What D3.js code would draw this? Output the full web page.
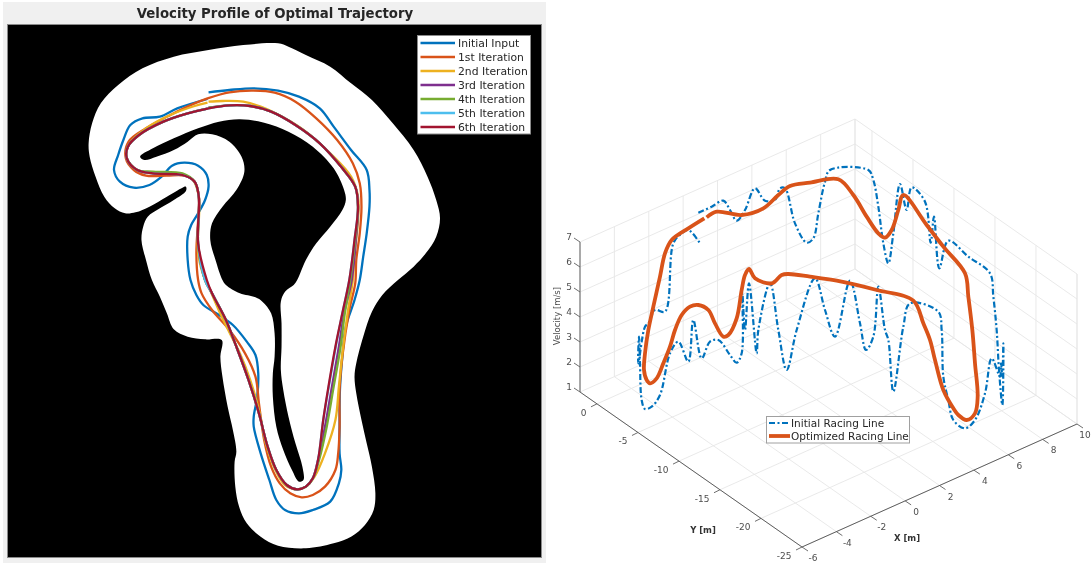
<!DOCTYPE html>
<html><head><meta charset="utf-8">
<script src="https://cdn.jsdelivr.net/npm/d3@7"></script>
<style>html,body{margin:0;padding:0;background:#fff}svg{display:block}text{font-family:"DejaVu Sans",sans-serif}</style>
</head><body><svg id="c" width="1091" height="565"></svg>
<script>
// ---------- Left panel: track map (map grid units) ----------
const chartTitle = "Velocity Profile of Optimal Trajectory";
const iterationNames = ["Initial Input","1st Iteration","2nd Iteration","3rd Iteration","4th Iteration","5th Iteration","6th Iteration"];
const iterationColors = ["#0072BD","#D95319","#EDB120","#7E2F8E","#77AC30","#4DBEEE","#A2142F"];
const trackOuter = [[800,130],[830,140],[880,165],[950,200],[1010,250],[1070,300],[1130,370],[1190,450],[1230,530],[1255,600],[1266,655],[1255,710],[1225,760],[1190,800],[1145,840],[1100,885],[1070,935],[1045,1010],[1025,1090],[1020,1130],[1025,1180],[1040,1260],[1055,1330],[1070,1400],[1080,1480],[1075,1530],[1050,1575],[1010,1610],[960,1630],[880,1645],[800,1637],[750,1610],[710,1570],[688,1520],[677,1460],[675,1385],[680,1355],[670,1290],[655,1220],[640,1130],[634,1070],[638,1020],[590,1018],[540,1010],[500,988],[480,940],[460,890],[437,840],[420,780],[407,720],[412,680],[425,650],[460,625],[500,600],[535,573],[535,560],[525,563],[480,590],[430,620],[390,637],[360,640],[330,625],[300,590],[275,530],[258,470],[255,430],[265,370],[290,310],[340,255],[410,205],[500,170],[600,150],[700,135]];
const trackHole = [[403,470],[440,445],[500,415],[570,385],[630,365],[690,358],[760,368],[830,395],[900,440],[960,505],[990,570],[995,600],[985,630],[950,680],[910,730],[880,780],[855,840],[845,855],[820,875],[808,905],[810,970],[810,1040],[808,1110],[815,1170],[830,1250],[850,1330],[870,1400],[873,1440],[860,1445],[840,1410],[815,1350],[795,1280],[785,1190],[785,1120],[790,1070],[790,1000],[780,940],[755,905],[735,892],[690,880],[650,855],[640,840],[620,780],[605,720],[610,670],[640,620],[680,570],[703,515],[695,470],[660,425],[610,403],[570,403],[540,425],[500,450],[450,470],[415,480]];
const iterInitial = [[600,277],[660,270],[730,265],[800,272],[860,290],[920,325],[960,380],[1010,450],[1055,510],[1063,570],[1063,620],[1055,700],[1045,770],[1035,840],[1020,900],[995,980],[985,1070],[978,1170],[977,1280],[977,1360],[982,1410],[975,1450],[950,1505],[900,1530],[860,1540],[820,1530],[795,1500],[775,1440],[750,1360],[730,1280],[730,1250],[740,1190],[743,1120],[735,1065],[710,1025],[670,975],[630,945],[585,915],[565,885],[548,840],[540,780],[540,710],[550,675],[570,640],[590,600],[600,560],[595,525],[570,497],[530,488],[495,497],[465,530],[430,555],[385,563],[345,545],[328,510],[340,465],[355,420],[375,375],[410,355],[460,350],[510,325],[597,297]];
const iterFirst = [[597,295],[660,277],[730,272],[790,278],[850,305],[910,355],[970,420],[1015,490],[1035,550],[1040,620],[1035,700],[1025,780],[1022,850],[1005,930],[985,1070],[977,1170],[977,1280],[973,1360],[965,1410],[935,1460],[900,1485],[868,1492],[835,1480],[805,1450],[780,1400],[760,1320],[745,1210],[735,1130],[705,1060],[660,990],[610,930],[580,880],[570,840],[565,760],[570,660],[572,590],[560,545],[530,527],[480,527],[420,527],[385,510],[362,475],[370,425],[420,385],[490,345],[560,310],[597,295]];
const iterSecond = [[600,305],[640,303],[700,305],[750,320],[820,355],[880,395],[950,460],[1010,530],[1030,590],[1030,660],[1020,760],[1015,840],[1000,940],[985,1060],[975,1160],[965,1260],[935,1360],[905,1430],[880,1460],[855,1468],[820,1455],[790,1405],[765,1330],[745,1230],[720,1140],[690,1060],[640,955],[600,860],[590,840],[570,760],[572,590],[555,540],[520,523],[440,520],[395,510],[365,475],[370,435],[420,385],[490,345],[560,318],[597,308]];
const iterThird = [[600,323],[660,316],[720,318],[780,335],[850,375],[920,430],[985,505],[1022,560],[1030,620],[1024,720],[1012,840],[990,940],[975,1040],[955,1160],[935,1280],[915,1380],[900,1435],[880,1460],[855,1468],[825,1455],[795,1410],[770,1340],[745,1240],[715,1140],[680,1040],[650,960],[610,880],[590,840],[570,730],[572,590],[560,545],[525,525],[440,520],[395,510],[365,475],[368,440],[400,405],[470,365],[540,340],[597,326]];
const iterFourth = [[600,323],[660,316],[720,318],[780,335],[850,375],[920,430],[985,505],[1022,560],[1030,620],[1022,720],[1008,840],[992,940],[980,1040],[960,1160],[940,1280],[918,1380],[900,1435],[880,1460],[855,1468],[825,1455],[795,1410],[770,1340],[745,1240],[715,1140],[680,1040],[650,960],[610,880],[590,840],[570,730],[572,590],[560,545],[525,520],[440,515],[395,510],[365,475],[368,440],[400,405],[470,365],[540,340],[597,326]];
const iterFifth = [[600,325],[660,316],[720,318],[780,335],[850,375],[920,430],[985,505],[1022,560],[1030,620],[1020,720],[1005,840],[985,940],[966,1040],[946,1160],[930,1260],[915,1380],[900,1435],[880,1460],[855,1468],[825,1455],[795,1410],[770,1340],[745,1240],[715,1140],[680,1040],[650,960],[610,880],[590,840],[570,730],[572,590],[560,545],[525,525],[440,520],[395,510],[365,475],[368,440],[400,405],[470,365],[540,340],[600,325]];
const iterSixth = [[600,325],[660,316],[720,318],[780,335],[850,375],[920,430],[985,505],[1022,560],[1030,620],[1020,720],[1005,840],[985,940],[965,1040],[945,1160],[930,1260],[915,1380],[900,1435],[880,1460],[855,1468],[825,1455],[795,1410],[770,1340],[745,1240],[715,1140],[680,1040],[650,960],[610,880],[595,840],[570,730],[572,590],[560,545],[525,525],[440,520],[395,510],[365,475],[368,440],[400,405],[470,365],[540,340],[600,325]];
const iterations = [iterInitial,iterFirst,iterSecond,iterThird,iterFourth,iterFifth,iterSixth];

// ---------- Right panel: 3D axes and curves (projected plane units) ----------
const xTicks = [-6,-4,-2,0,2,4,6,8,10];
const yTicks = [0,-5,-10,-15,-20,-25];
const zTicks = [1,2,3,4,5,6,7];
const yAxisMax = 2.07;
const racingNames = ["Initial Racing Line","Optimized Racing Line"];
const racingColors = ["#0072BD","#D95319"];
const initialLine = [[460,308],[500,290],[535,272],[555,300],[575,332],[600,300],[630,235],[660,272],[690,270],[705,235],[720,235],[750,340],[785,398],[805,385],[820,310],[840,215],[855,180],[970,180],[985,210],[1000,290],[1015,400],[1030,460],[1045,370],[1065,222],[1085,300],[1100,232],[1140,275],[1157,398],[1167,320],[1183,475],[1210,392],[1270,440],[1335,490],[1345,560],[1355,660],[1362,780],[1372,885],[1375,780],[1375,700],[1372,800],[1368,760],[1365,800],[1340,745],[1320,850],[1290,930],[1260,955],[1225,930],[1210,870],[1195,800],[1190,660],[1180,605],[1095,580],[1075,650],[1045,845],[1030,690],[1020,660],[1000,530],[985,680],[963,720],[945,640],[915,512],[870,680],[840,600],[810,505],[755,660],[725,780],[700,660],[675,520],[640,660],[635,730],[612,520],[600,660],[592,550],[590,730],[575,758],[555,735],[520,690],[495,695],[470,745],[445,630],[430,755],[400,695],[375,730],[345,855],[320,890],[300,897],[290,870],[285,760],[282,680],[280,760],[300,650],[310,640],[330,600],[360,605],[385,400],[410,370],[430,360],[465,400]];
const optimizedLine = [[478,325],[430,355],[380,390],[360,430],[345,500],[325,590],[310,660],[300,730],[297,780],[305,810],[315,820],[335,805],[355,760],[375,710],[390,660],[410,615],[435,590],[460,585],[490,600],[510,640],[535,680],[550,675],[575,625],[590,540],[600,495],[612,477],[630,505],[680,520],[710,495],[730,492],[795,500],[875,512],[995,540],[1105,572],[1135,640],[1155,690],[1170,750],[1195,840],[1225,895],[1240,915],[1265,930],[1290,910],[1298,860],[1290,760],[1282,660],[1270,560],[1260,490],[1195,410],[1145,345],[1075,255],[1060,300],[1040,360],[1020,383],[1000,370],[965,320],[925,255],[880,208],[795,218],[735,228],[700,255],[655,295],[590,315],[515,305],[485,322]];

const svg = d3.select("#c");
svg.append("defs").append("filter").attr("id","soft").attr("x",0).attr("y",0).attr("width",1).attr("height",1)
  .attr("color-interpolation-filters","sRGB")
  .append("feGaussianBlur").attr("stdDeviation",0.45);
const root = svg.append("g").attr("filter","url(#soft)");
root.append("rect").attr("width",1091).attr("height",565).attr("fill","#fff");

// === Left panel ===
const mapX = d3.scaleLinear().domain([0,1568]).range([0,545]);
const mapY = d3.scaleLinear().domain([0,840]).range([0,280]);
const smoothLine = d3.line().x(d=>mapX(d[0])).y(d=>mapY(d[1])).curve(d3.curveCatmullRom.alpha(0.5));
const closedLine = d3.line().x(d=>mapX(d[0])).y(d=>mapY(d[1])).curve(d3.curveCatmullRomClosed.alpha(0.5));

root.append("rect").attr("x",3).attr("y",2).attr("width",543).attr("height",561).attr("fill","#f0f0f0");
root.append("text").attr("x",275).attr("y",18).attr("text-anchor","middle")
  .attr("font-size",13.3).attr("font-weight","bold").attr("fill","#262626").text(chartTitle);
root.append("rect").attr("x",7.5).attr("y",24.5).attr("width",534).attr("height",533)
  .attr("fill","#000").attr("stroke","#8a8a8a").attr("stroke-width",1);
root.append("path").attr("d",closedLine(trackOuter)).attr("fill","#fff");
root.append("path").attr("d",closedLine(trackHole)).attr("fill","#000");
iterations.forEach((pts,i)=>{
  root.append("path").attr("d",smoothLine(pts)).attr("fill","none")
    .attr("stroke",iterationColors[i]).attr("stroke-width",2.3).attr("stroke-linejoin","round");
});
const lg = root.append("g");
lg.append("rect").attr("x",417.5).attr("y",35.5).attr("width",113).attr("height",98.5)
  .attr("fill","#fff").attr("stroke","#8a8a8a").attr("stroke-width",1);
const legY = d3.scalePoint().domain(iterationNames).range([43,127]);
iterationNames.forEach((n,i)=>{
  lg.append("line").attr("x1",420.5).attr("x2",455).attr("y1",legY(n)).attr("y2",legY(n))
    .attr("stroke",iterationColors[i]).attr("stroke-width",2.3);
  lg.append("text").attr("x",458).attr("y",legY(n)+4).attr("font-size",10.8).attr("fill","#262626").text(n);
});

// === Right panel ===
const planeU = d3.scaleLinear().domain([0,1638]).range([545,1091]);
const planeW = d3.scaleLinear().domain([0,1365]).range([110,565]);
const xS = d3.scaleLinear().domain([-6,10]).range([0,1]);
const yS = d3.scaleLinear().domain([-25,yAxisMax]).range([0,1]);
const zS = d3.scaleLinear().domain([1,7]).range([0,1]);
function proj(x,y,z){
  return [802 + 275*xS(x) - 222*yS(y), 547 - 123*xS(x) - 155*yS(y) - 150*zS(z)];
}
const g3 = root.append("g");
function seg(a,b,col,w){
  const p=proj(...a), q=proj(...b);
  g3.append("line").attr("x1",p[0]).attr("y1",p[1]).attr("x2",q[0]).attr("y2",q[1])
    .attr("stroke",col).attr("stroke-width",w===undefined?0.9:w);
}
const gridCol="#e6e6e6";
const xMax=10, xMin=-6, zMin=1, zMax=7;
xTicks.forEach(x=>{ seg([x,yAxisMax,zMin],[x,yAxisMax,zMax],gridCol); seg([x,-25,zMin],[x,yAxisMax,zMin],gridCol); });
yTicks.forEach(y=>{ seg([xMax,y,zMin],[xMax,y,zMax],gridCol); seg([xMin,y,zMin],[xMax,y,zMin],gridCol); });
zTicks.forEach(z=>{ seg([xMin,yAxisMax,z],[xMax,yAxisMax,z],gridCol); seg([xMax,yAxisMax,z],[xMax,-25,z],gridCol); });
seg([xMax,yAxisMax,zMin],[xMax,yAxisMax,zMax],gridCol);
seg([xMax,-25,zMin],[xMax,-25,zMax],gridCol);

const axCol="#5e5e5e";
seg([xMin,yAxisMax,zMin],[xMin,yAxisMax,zMax],axCol,1);
seg([xMin,yAxisMax,zMin],[xMin,-25,zMin],axCol,1);
seg([xMin,-25,zMin],[xMax,-25,zMin],axCol,1);
const tickFont=9, tickCol="#4d4d4d";
function lab(px,py,t,anchor,extra){
  const e=g3.append("text").attr("x",px).attr("y",py).attr("text-anchor",anchor||"middle")
    .attr("font-size",tickFont).attr("fill",tickCol).text(t);
  if(extra) extra(e);
  return e;
}
function tick(p,dx,dy){
  g3.append("line").attr("x1",p[0]).attr("y1",p[1]).attr("x2",p[0]+dx).attr("y2",p[1]+dy).attr("stroke",axCol).attr("stroke-width",0.9);
}
zTicks.forEach(z=>{ const p=proj(xMin,yAxisMax,z); tick(p,-6,-4); lab(p[0]-11,p[1]-2,String(z)); });
yTicks.forEach(y=>{ const p=proj(xMin,y,zMin); tick(p,-6,3); lab(p[0]-10.5,p[1]+12,String(y),"end"); });
xTicks.forEach(x=>{ const p=proj(x,-25,zMin); tick(p,6,4);
  const px = Math.min(p[0]+11, 1085);
  lab(px,p[1]+14,String(x)); });
lab(560,316,"Velocity [m/s]","middle",e=>e.attr("transform","rotate(-90 560 316)").attr("font-size",8.5));
lab(703,533,"Y [m]","middle",e=>e.attr("font-weight","bold").attr("fill","#333").attr("font-size",8.5));
lab(907,541,"X [m]","middle",e=>e.attr("font-weight","bold").attr("fill","#333").attr("font-size",8.5));

const planeLine = d3.line().x(d=>planeU(d[0])).y(d=>planeW(d[1])).curve(d3.curveCatmullRom.alpha(0.5));
root.append("path").attr("d",planeLine(initialLine)).attr("fill","none").attr("stroke",racingColors[0])
  .attr("stroke-width",2.2).attr("stroke-dasharray","6,2.5,2,2.5");
root.append("path").attr("d",planeLine(optimizedLine)).attr("fill","none").attr("stroke",racingColors[1])
  .attr("stroke-width",3.8).attr("stroke-linejoin","round");

const lr = root.append("g");
lr.append("rect").attr("x",766.5).attr("y",416.5).attr("width",143).attr("height",26.5)
  .attr("fill","#fff").attr("stroke","#a0a0a0").attr("stroke-width",1);
const legR = d3.scalePoint().domain(racingNames).range([423,436]);
racingNames.forEach((n,i)=>{
  const l=lr.append("line").attr("x1",769).attr("x2",790).attr("y1",legR(n)).attr("y2",legR(n))
    .attr("stroke",racingColors[i]).attr("stroke-width",i?3.8:2.2);
  if(!i) l.attr("stroke-dasharray","6,2.5,2,2.5");
  lr.append("text").attr("x",791).attr("y",legR(n)+4).attr("font-size",10.5).attr("fill","#262626").text(n);
});
</script></body></html>
